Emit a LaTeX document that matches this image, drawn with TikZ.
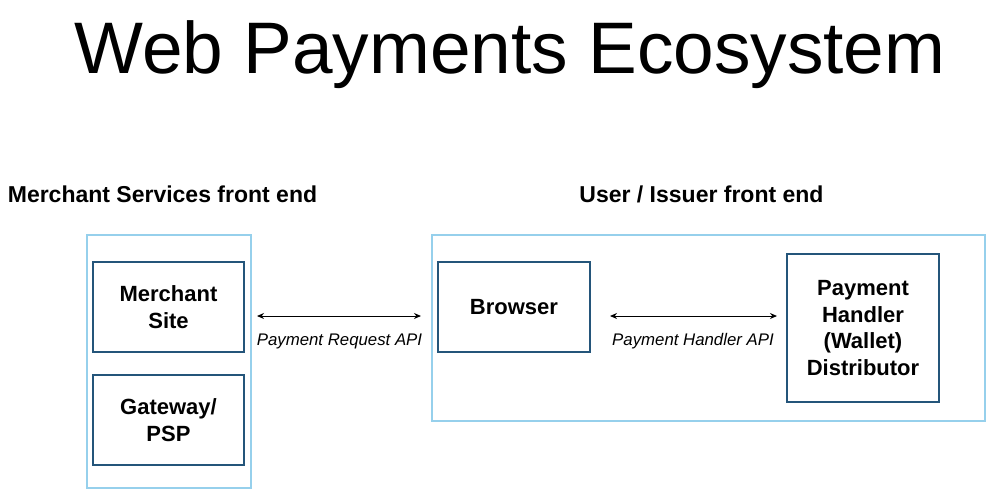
\documentclass[tikz,border=0pt]{standalone}
\usepackage{fontspec}
\setmainfont{Liberation Sans}
\usetikzlibrary{arrows.meta}
\definecolor{outerblue}{HTML}{96D0EC}
\definecolor{boxblue}{HTML}{24557A}
\begin{document}
\begin{tikzpicture}[x=1pt,y=-1pt,
  outerbox/.style={draw=outerblue,line width=1.3pt},
  innerbox/.style={draw=boxblue,line width=2.4pt,align=center,font=\fontsize{22}{26.5}\selectfont\bfseries,inner sep=0pt},
  header/.style={font=\fontsize{23}{26}\selectfont\bfseries,anchor=base},
  apilabel/.style={font=\fontsize{16.8}{20}\selectfont\itshape,anchor=base},
  apiarrow/.style={{Stealth[length=7pt,width=6pt]}-{Stealth[length=7pt,width=6pt]},line width=1pt}]
\useasboundingbox (0,0) rectangle (999,499);
\fill[white] (0,0) rectangle (999,499);
\node[anchor=base,font=\fontsize{73}{80}\selectfont] (title) at (510,73) {Web Payments Ecosystem};
\node[header] (mhead) at (162.5,202) {Merchant Services front end};
\node[header] (uhead) at (701.5,202) {User / Issuer front end};
\draw[outerbox] (87,235) rectangle (251,488);
\draw[outerbox] (432,235) rectangle (985,421);
\node[innerbox,minimum width=151pt,minimum height=90pt] (msite) at (168.5,307) {Merchant\\Site};
\node[innerbox,minimum width=151pt,minimum height=90pt] (gw) at (168.5,420) {Gateway/\\PSP};
\node[innerbox,minimum width=152pt,minimum height=90pt] (browser) at (514,307) {Browser};
\node[innerbox,minimum width=152pt,minimum height=148pt] (ph) at (863,328) {Payment\\Handler\\(Wallet)\\Distributor};
\coordinate (a1l) at (257,316);
\coordinate (a1r) at (421,316);
\coordinate (a2l) at (610,316);
\coordinate (a2r) at (777,316);
\draw[apiarrow] (a1l) -- (a1r);
\draw[apiarrow] (a2l) -- (a2r);
\node[apilabel] (prapi) at (339.5,345) {Payment Request API};
\node[apilabel] (phapi) at (693,345) {Payment Handler API};
\end{tikzpicture}
\end{document}
